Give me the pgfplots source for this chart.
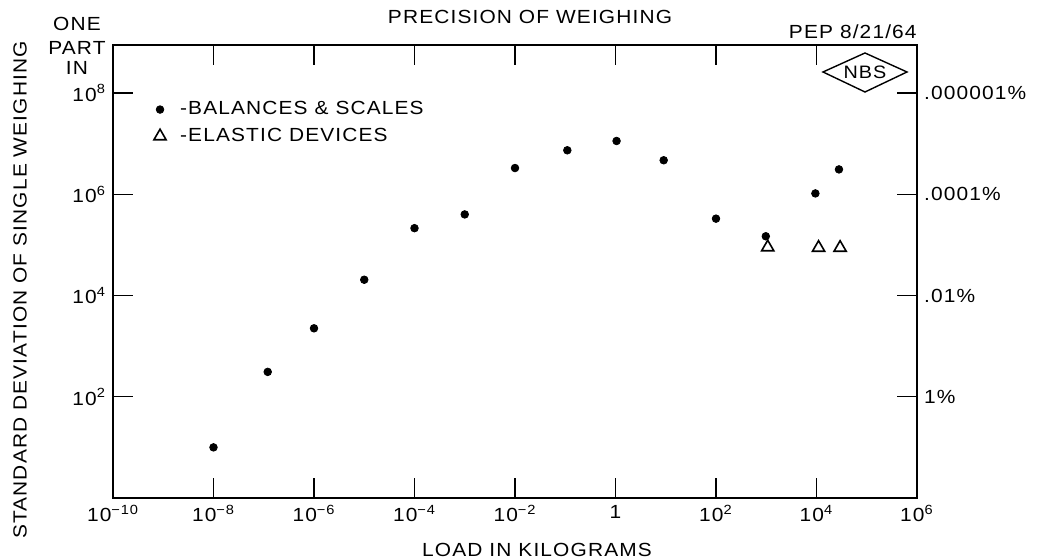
\documentclass[border=0pt]{standalone}
\usepackage{fontspec}
\setmainfont{Liberation Sans}[FakeStretch=1.1,LetterSpace=6]
\usepackage{pgfplots}
\pgfplotsset{compat=1.18}
\newcommand\fs{\fontsize{9.5}{11}\selectfont}

\begin{document}
\begin{tikzpicture}[font=\fs]
\path[use as bounding box] (0,0) rectangle (520.5pt,280pt);
\begin{axis}[
  at={(56.5pt,31pt)}, anchor=south west,
  scale only axis, width=402pt, height=226.5pt,
  xmode=log, ymode=log,
  xmin=1e-10, xmax=1e6, ymin=1, ymax=8.9e8,
  xtick={1e-10,1e-8,1e-6,1e-4,1e-2,1,1e2,1e4,1e6},
  xticklabels={10\textsuperscript{−10},10\textsuperscript{−8},10\textsuperscript{−6},10\textsuperscript{−4},10\textsuperscript{−2},1,10\textsuperscript{2},10\textsuperscript{4},10\textsuperscript{6}},
  ytick={1e2,1e4,1e6,1e8},
  yticklabels={10\textsuperscript{2},10\textsuperscript{4},10\textsuperscript{6},10\textsuperscript{8}},
  tick pos=both, xticklabel pos=lower, yticklabel pos=left,
  tick align=inside, major tick length=10pt,
  xminorticks=false, yminorticks=false,
  axis line style={line width=0.9pt},
  major tick style={line width=0.6pt, black},
  tick label style={font=\fs},
  legend style={draw=none, fill=none, font=\fs, row sep=1.2pt,
    at={(axis description cs:0.043,0.894)}, anchor=north west},
  legend cell align=left,
]
% balances & scales
\addplot[only marks, mark=*, mark size=1.9pt, black] coordinates {
  (1e-8,10) (1.2e-7,310) (1e-6,2250) (1e-5,2.05e4) (1e-4,2.14e5)
  (1e-3,4.0e5) (1e-2,3.3e6) (0.11,7.4e6) (1.05,1.13e7) (9.1,4.7e6)
  (100,3.3e5) (980,1.48e5) (9.5e3,1.04e6) (2.8e4,3.1e6)
};
\addlegendentry{\hspace{5pt}-BALANCES \& SCALES}
% elastic devices
\addplot[only marks, mark=triangle, mark size=3.5pt, line width=0.8pt, black] coordinates {
  (1.07e3,9e4) (1.1e4,8.8e4) (2.95e4,8.8e4)
};
\addlegendentry{\hspace{5pt}-ELASTIC DEVICES}
\end{axis}

\begin{axis}[
  at={(56.5pt,31pt)}, anchor=south west,
  scale only axis, width=402pt, height=226.5pt,
  xmode=log, ymode=log,
  xmin=1e-10, xmax=1e6, ymin=1, ymax=8.9e8,
  hide x axis, axis y line*=right, axis line style={draw=none},
  ytick={1e2,1e4,1e6,1e8},
  yticklabels={1\%,.01\%,.0001\%,.000001\%},
  major tick length=0pt, yminorticks=false,
  tick label style={font=\fs},
]
\addplot[draw=none] coordinates {(1,1)};
\end{axis}

\node at (265pt,271.5pt) {PRECISION OF WEIGHING};
\node[anchor=east, inner sep=0pt] at (458.5pt,264pt) {PEP 8/21/64};
\node at (38.5pt,268pt) {ONE};
\node at (38.5pt,256pt) {PART};
\node at (38.5pt,246pt) {IN};
\draw[line width=0.7pt] (411.5pt,244pt) -- (432.5pt,253.5pt) -- (453.5pt,244pt) -- (432.5pt,234pt) -- cycle;
\node[font=\fontsize{9}{10}\selectfont] at (432.5pt,244pt) {NBS};
\node[rotate=90] at (10pt,135pt) {STANDARD DEVIATION OF SINGLE WEIGHING};
\node at (268.5pt,5pt) {LOAD IN KILOGRAMS};
\end{tikzpicture}
\end{document}
